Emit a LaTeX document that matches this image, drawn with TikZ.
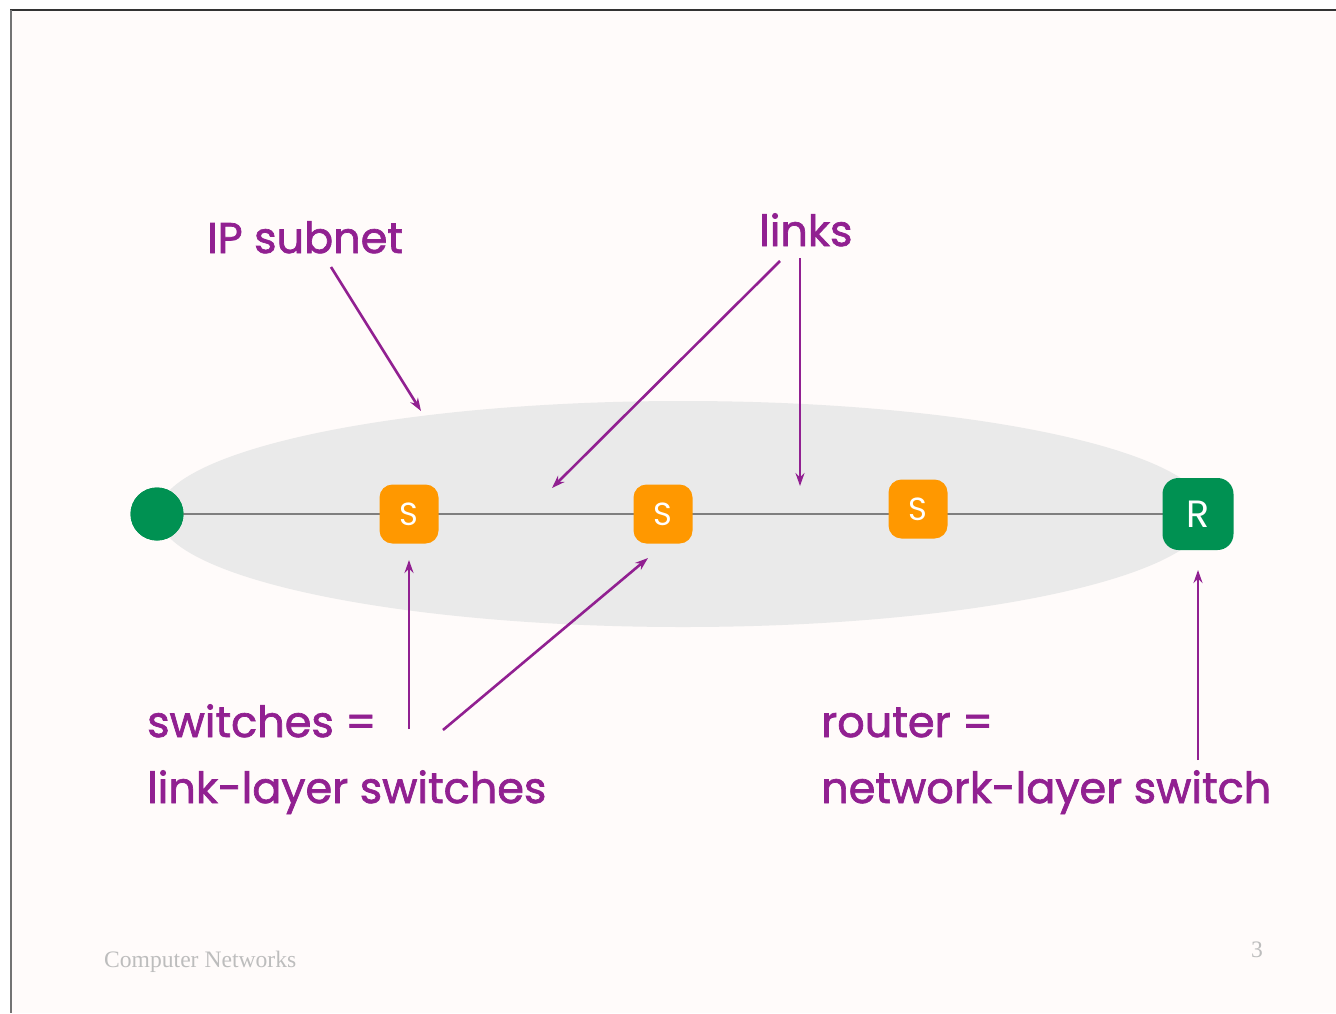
\documentclass[tikz,border=0pt]{standalone}
\usepackage{fontspec}
\setmainfont{Poppins}
\newfontfamily\lblfont{Poppins}[FakeBold=1.6]
\newfontfamily\footfont{Liberation Serif}
\usetikzlibrary{arrows.meta}
\definecolor{lblpurple}{HTML}{912091}
\definecolor{sworange}{HTML}{FF9800}
\definecolor{rtgreen}{HTML}{009152}
\definecolor{subgray}{HTML}{EAEAEA}
\definecolor{linkgray}{HTML}{7F7F7F}
\definecolor{slidebg}{HTML}{FFFBFA}
\definecolor{footgray}{HTML}{BDBDBD}
\tikzset{
  lbl/.style={text=lblpurple, font=\lblfont\fontsize{43}{43}\selectfont, inner sep=0pt, anchor=base west},
  pointer/.style={draw=lblpurple, line width=2.6pt, -{Stealth[length=13pt,width=9pt]}},
  swbox/.style={fill=sworange, rounded corners=13pt, minimum width=59pt, minimum height=59pt, inner sep=0pt, text=white, font=\fontsize{32}{32}\selectfont},
  rtbox/.style={fill=rtgreen, rounded corners=16pt, minimum width=71pt, minimum height=72pt, inner sep=0pt, text=white, font=\fontsize{38}{38}\selectfont},
  hostdot/.style={circle, fill=rtgreen, minimum size=53pt, inner sep=0pt},
  link/.style={draw=linkgray, line width=2.5pt},
  foot/.style={text=footgray, font=\footfont\fontsize{23.6}{24}\selectfont, inner sep=0pt, anchor=base west}
}
\begin{document}
\begin{tikzpicture}[x=1pt,y=-1pt]
\useasboundingbox (0,0) rectangle (1336,1013);
\fill[white] (0,0) rectangle (1336,1013);
\fill[slidebg] (11,10) rectangle (1336,1013);
\draw[color=black!80, line width=1.5pt] (10,10) -- (1336,10);
\draw[color=black!55, line width=2pt] (11,10) -- (11,1013);
% subnet ellipse
\fill[subgray] (683,514) ellipse [x radius=525, y radius=113];
% link end points on the switch line
\coordinate (s3w) at (889,514);
\coordinate (s3e) at (947,514);
% links (drawn first, boxes on top)
\node[hostdot] (h) at (157,514) {};
\draw[link] (h.center) -- (1198,514);
% nodes
\node[swbox] (s1) at (409,514) {S};
\node[swbox] (s2) at (663,514) {S};
\node[swbox] (s3) at (918,509) {S};
\node[rtbox] (r) at (1198,514) {R};
\node[hostdot] (h2) at (157,514) {};
\coordinate (l1) at (552,488);
\coordinate (l2) at (800,486);
\coordinate (subp) at (421,411);
% labels
\node[lbl] (ip) at (207,253) {IP subnet};
\node[lbl] (lk) at (759,246) {links};
\node[lbl] (sw1) at (147,737) {switches =};
\node[lbl] (sw2) at (147,803) {link-layer switches};
\node[lbl] (ro1) at (821,737) {router =};
\node[lbl] (ro2) at (821,803) {network-layer switch};
\coordinate (ipa) at (331,267);
\coordinate (lka) at (780,261);
\coordinate (lkb) at (800,258);
\coordinate (swa) at (409,729);
\coordinate (swb) at (443,730);
\coordinate (roa) at (1198,760);
\coordinate (s1p) at (409,560);
\coordinate (s2p) at (648,558);
\coordinate (rp) at (1198,570);
\draw[pointer] (ipa) -- (subp);
\draw[pointer] (lka) -- (l1);
\draw[pointer] (lkb) -- (l2);
\draw[pointer] (swa) -- (s1p);
\draw[pointer] (swb) -- (s2p);
\draw[pointer] (roa) -- (rp);
% footer
\node[foot] (ft) at (104,967) {Computer Networks};
\node[foot] (pg) at (1251,957) {3};
\end{tikzpicture}
\end{document}
